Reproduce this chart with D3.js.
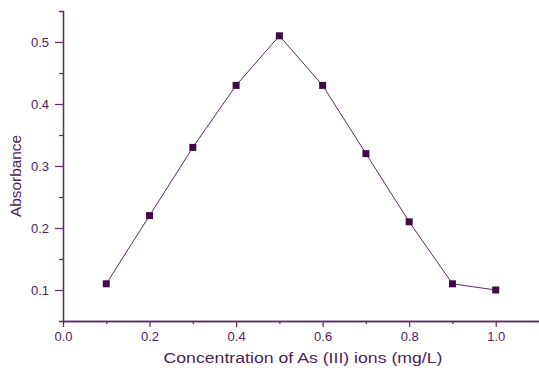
<!DOCTYPE html>
<html>
<head>
<meta charset="utf-8">
<script src="https://cdn.jsdelivr.net/npm/d3@7"></script>
<style>
  body { margin: 0; background: #fff; }
  svg text { font-family: "Liberation Sans", Arial, sans-serif; fill: #4b2456; }
</style>
</head>
<body>
<div class="chart"></div>
<script>
const concentration = [0.1, 0.2, 0.3, 0.4, 0.5, 0.6, 0.7, 0.8, 0.9, 1.0];
const absorbance = [0.11, 0.22, 0.33, 0.43, 0.51, 0.43, 0.32, 0.21, 0.11, 0.10];
const xTicks = [0, 0.2, 0.4, 0.6, 0.8, 1.0];
const yTicks = [0.1, 0.2, 0.3, 0.4, 0.5];

const width = 539, height = 371;
const margin = {top: 11, right: 0, bottom: 50, left: 63};
const axisColor = '#5e2d63';
const markColor = '#3f0a45';

const data = concentration.map((c, i) => ({x: c, y: absorbance[i]}));

const svg = d3.select('.chart').append('svg')
    .attr('width', width)
    .attr('height', height);

const xScale = d3.scaleLinear()
    .domain([0, 1.1])
    .range([margin.left, width - margin.right]);

const yScale = d3.scaleLinear()
    .domain([0.05, 0.55])
    .range([height - margin.bottom, margin.top]);

const styleAxis = function (g) {
  g.selectAll('.domain').attr('stroke', axisColor).attr('stroke-width', 1.3);
  g.selectAll('.tick line').attr('stroke', axisColor).attr('stroke-width', 1.2);
  g.selectAll('.tick text').attr('font-size', 13);
};

// minor ticks first, majors on top
svg.append('g')
    .attr('transform', `translate(0,${height - margin.bottom})`)
    .call(d3.axisBottom(xScale).tickValues(d3.range(0.1, 1.1, 0.2)).tickSize(3).tickFormat(''))
    .call(styleAxis);
svg.append('g')
    .attr('transform', `translate(0,${height - margin.bottom})`)
    .call(d3.axisBottom(xScale).tickValues(xTicks).tickSize(6).tickSizeOuter(0).tickPadding(5).tickFormat(d3.format('.1f')))
    .call(styleAxis);

svg.append('g')
    .attr('transform', `translate(${margin.left},0)`)
    .call(d3.axisLeft(yScale).tickValues(d3.range(0.15, 0.55, 0.1)).tickSize(4).tickFormat(''))
    .call(styleAxis);
svg.append('g')
    .attr('transform', `translate(${margin.left},0)`)
    .call(d3.axisLeft(yScale).tickValues(yTicks).tickSize(8).tickSizeOuter(0).tickPadding(6).tickFormat(d3.format('.1f')))
    .call(styleAxis);

svg.append('text')
    .attr('x', 303)
    .attr('y', 363)
    .attr('text-anchor', 'middle')
    .attr('font-size', 15.5)
    .attr('textLength', 279)
    .attr('lengthAdjust', 'spacingAndGlyphs')
    .text('Concentration of As (III) ions (mg/L)');

svg.append('text')
    .attr('transform', `translate(21,176) rotate(-90)`)
    .attr('text-anchor', 'middle')
    .attr('font-size', 15)
    .attr('textLength', 82)
    .attr('lengthAdjust', 'spacingAndGlyphs')
    .text('Absorbance');

const line = d3.line()
    .x(d => xScale(d.x))
    .y(d => yScale(d.y));

svg.append('path')
    .datum(data)
    .attr('fill', 'none')
    .attr('stroke', '#5a2a60')
    .attr('stroke-width', 1)
    .attr('d', line);

const size = 7;
svg.selectAll('.pt')
  .data(data)
  .enter()
  .append('rect')
    .attr('class', 'pt')
    .attr('x', d => xScale(d.x) - size / 2)
    .attr('y', d => yScale(d.y) - size / 2)
    .attr('width', size)
    .attr('height', size)
    .attr('fill', markColor);
</script>
</body>
</html>
